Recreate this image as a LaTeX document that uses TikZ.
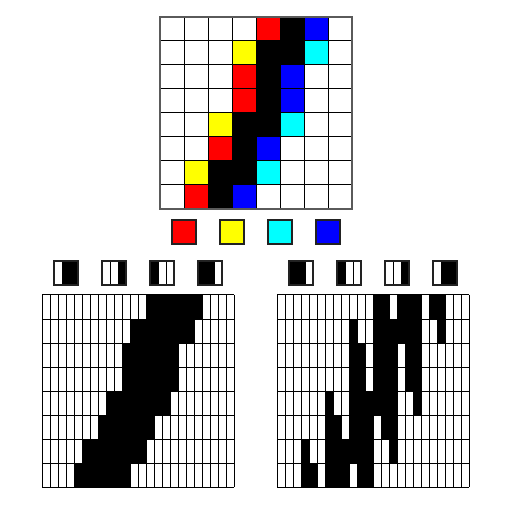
\documentclass[tikz,border=0pt]{standalone}
\definecolor{cW}{RGB}{255,255,255}
\definecolor{cK}{RGB}{0,0,0}
\definecolor{cR}{RGB}{255,0,0}
\definecolor{cY}{RGB}{255,255,0}
\definecolor{cC}{RGB}{0,255,255}
\definecolor{cB}{RGB}{0,0,255}
\definecolor{frame}{RGB}{90,90,90}
\definecolor{iconframe}{RGB}{34,34,34}
% left patterns (3 sub-columns, 1 = black)
\def\LW{0,0,0}\def\LK{1,1,1}\def\LR{0,1,1}\def\LY{0,0,1}\def\LC{1,0,0}\def\LB{1,1,0}
% right patterns
\def\RW{0,0,0}\def\RK{1,1,1}\def\RR{1,1,0}\def\RY{1,0,0}\def\RC{0,0,1}\def\RB{0,1,1}
\tikzset{
  gridline/.style={draw=black, line width=0.5pt},
  iconbox/.style={draw=iconframe, line width=0.7pt},
}
\begin{document}
\begin{tikzpicture}[x=0.5pt,y=-0.5pt,line width=0.5pt]
\useasboundingbox (0,0) rectangle (512,512);
\fill[white] (0,0) rectangle (512,512);
\def\rows{{W,W,W,W,R,K,B,W},{W,W,W,Y,K,K,C,W},{W,W,W,R,K,B,W,W},{W,W,W,R,K,B,W,W},{W,W,Y,K,K,C,W,W},{W,W,R,K,B,W,W,W},{W,Y,K,K,C,W,W,W},{W,R,K,B,W,W,W,W}}
% cells
\foreach \row [count=\r from 0] in \rows {
  \foreach \c [count=\i from 0] in \row {
    \fill[c\c] ({160+24*\i},{17+24*\r}) rectangle +(24,24);
    \edef\patL{\csname L\c\endcsname}
    \edef\patR{\csname R\c\endcsname}
    \foreach \v [count=\k from 0] in \patL {
      \ifnum\v=1 \fill[black] ({42+24*\i+8*\k},{295+24*\r}) rectangle +(8,24); \fi
    }
    \foreach \v [count=\k from 0] in \patR {
      \ifnum\v=1 \fill[black] ({277+24*\i+8*\k},{295+24*\r}) rectangle +(8,24); \fi
    }
  }
}
% top grid lines
\foreach \k in {1,...,7} {
  \draw[gridline] ({160+24*\k},17) -- ({160+24*\k},209);
  \draw[gridline] (160,{17+24*\k}) -- (352,{17+24*\k});
}
\draw[draw=frame, line width=0.7pt] (160,17) rectangle (352,209);
% lower grid lines
\foreach \x in {42,277} {
  \foreach \k in {0,...,24} {
    \draw[gridline] ({\x+8*\k},295) -- ({\x+8*\k},487);
  }
  \foreach \k in {0,...,8} {
    \draw[gridline] (\x,{295+24*\k}) -- ({\x+192},{295+24*\k});
  }
}
% legend squares
\foreach \c [count=\i from 0] in {R,Y,C,B} {
  \filldraw[fill=c\c, iconbox] ({172+48*\i},220) rectangle +(24,24);
}
% icons
\foreach \c [count=\i from 0] in {R,Y,C,B} {
  \edef\patL{\csname L\c\endcsname}
  \edef\patR{\csname R\c\endcsname}
  \foreach \v [count=\k from 0] in \patL {
    \ifnum\v=1 \fill[black] ({54+48*\i+8*\k},261) rectangle +(8,24); \fi
  }
  \foreach \v [count=\k from 0] in \patR {
    \ifnum\v=1 \fill[black] ({289+48*\i+8*\k},261) rectangle +(8,24); \fi
  }
  \foreach \k in {1,2} {
    \draw[gridline] ({54+48*\i+8*\k},261) -- +(0,24);
    \draw[gridline] ({289+48*\i+8*\k},261) -- +(0,24);
  }
  \draw[iconbox] ({54+48*\i},261) rectangle +(24,24);
  \draw[iconbox] ({289+48*\i},261) rectangle +(24,24);
}
\end{tikzpicture}
\end{document}
